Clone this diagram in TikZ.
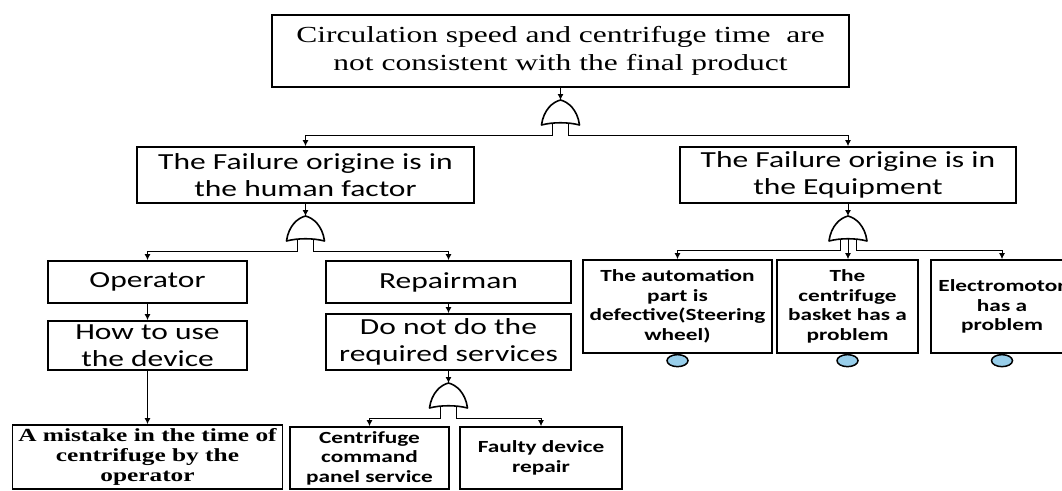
\documentclass[tikz,border=0pt]{standalone}
\usepackage{fontspec}
\setmainfont[FakeStretch=1.37]{Liberation Serif}
\newfontfamily\calibri[FakeStretch=1.37]{Carlito}
\usetikzlibrary{arrows.meta,shapes.geometric}
\definecolor{eventblue}{RGB}{152,206,234}

\tikzset{
  orgate/.pic = {
    \draw[line width=1.6pt, line join=round]
      (-19,25) .. controls (-17,10) and (-8,2) .. (0,0)
      .. controls (8,2) and (17,10) .. (19,25)
      .. controls (8,22) and (-8,22) .. cycle;
    \coordinate (-in) at (0,0);
    \coordinate (-l) at (-8,23.5);
    \coordinate (-m) at (0,23);
    \coordinate (-r) at (8,23.5);
  }
}

\begin{document}
\begin{tikzpicture}[x=1pt, y=-1pt,
  box/.style = {shape=rectangle, draw, line width=1.8pt, align=center, inner sep=0pt},
  big/.style = {font=\calibri\fontsize{23}{27}\selectfont},
  small/.style = {font=\calibri\bfseries\fontsize{17}{19.5}\selectfont},
  event/.style = {shape=ellipse, draw, line width=1.5pt, fill=eventblue,
    minimum width=21pt, minimum height=12pt, inner sep=0pt, anchor=north},
  arr/.style = {line width=0.9pt, -{Latex[length=6pt,width=6pt]}}]
  \useasboundingbox (0,0) rectangle (1062,490);
  \clip (0,0) rectangle (1062,490);

  \node[box, minimum width=577pt, minimum height=72pt,
    font=\fontsize{23}{28}\selectfont] (top) at (560.5,51)
    {Circulation speed and centrifuge time\ \ are\\ not consistent with the final product};

  \node[box, big, minimum width=337pt, minimum height=56pt] (human) at (305.5,175)
    {The Failure origine is in\\ the human factor};
  \node[box, big, minimum width=336pt, minimum height=56pt] (equip) at (848,175)
    {The Failure origine is in\\ the Equipment};

  \node[box, big, minimum width=199pt, minimum height=42pt] (operator) at (147.5,282) {Operator};
  \node[box, big, minimum width=245pt, minimum height=42pt] (repairman) at (448.5,282) {Repairman};
  \node[box, big, minimum width=199pt, minimum height=49pt] (howto) at (147.5,345.5)
    {How to use\\ the device};
  \node[box, big, minimum width=245pt, minimum height=56pt] (donot) at (448.5,342)
    {Do not do the\\ required services};

  \node[box, minimum width=270pt, minimum height=64pt,
    font=\bfseries\fontsize{18.5}{20}\selectfont] (mistake) at (147.5,457)
    {A mistake in the time of\\ centrifuge by the\\ operator};
  \node[box, small, minimum width=159pt, minimum height=62pt] (panel) at (369.5,458)
    {Centrifuge\\ command\\ panel service};
  \node[box, small, minimum width=162pt, minimum height=62pt] (repair) at (541,458)
    {Faulty device\\ repair};

  \node[box, small, minimum width=189pt, minimum height=93pt] (automation) at (677.5,306.5)
    {The automation\\ part is\\ defective(Steering\\ wheel)};
  \node[box, small, minimum width=141pt, minimum height=93pt] (basket) at (847.5,306.5)
    {The\\ centrifuge\\ basket has a\\ problem};
  \node[box, small, minimum width=142pt, minimum height=93pt] (motor) at (1002,306.5)
    {Electromotor\\ has a\\ problem};

  \node[event] (e1) at (automation.south) {};
  \node[event] (e2) at (basket.south) {};
  \node[event] (e3) at (motor.south) {};

  \pic (g0) at (560.5,100) {orgate};
  \pic (g1) at (305.5,216) {orgate};
  \pic (g2) at (848,216) {orgate};
  \pic (g3) at (448.5,383) {orgate};

  \draw[arr] (top.south) -- (g0-in);
  \draw[arr] (g0-l) -- ++(0,11.5) -| (human.north);
  \draw[arr] (g0-r) -- ++(0,11.5) -| (equip.north);

  \draw[arr] (human.south) -- (g1-in);
  \draw[arr] (g1-l) -- ++(0,11.5) -| (operator.north);
  \draw[arr] (g1-r) -- ++(0,11.5) -| (repairman.north);

  \draw[arr] (equip.south) -- (g2-in);
  \draw[arr] (g2-l) -- ++(0,10.5) -| (automation.north);
  \draw[arr] (g2-m) -- (g2-m |- basket.north);
  \draw[arr] (g2-r) -- ++(0,10.5) -| (motor.north);

  \draw[arr] (operator) -- (howto);
  \draw[arr] (howto) -- (mistake);
  \draw[arr] (repairman) -- (donot);

  \draw[arr] (donot.south) -- (g3-in);
  \draw[arr] (g3-l) -- ++(0,11.5) -| (panel.north);
  \draw[arr] (g3-r) -- ++(0,11.5) -| (repair.north);
\end{tikzpicture}
\end{document}
